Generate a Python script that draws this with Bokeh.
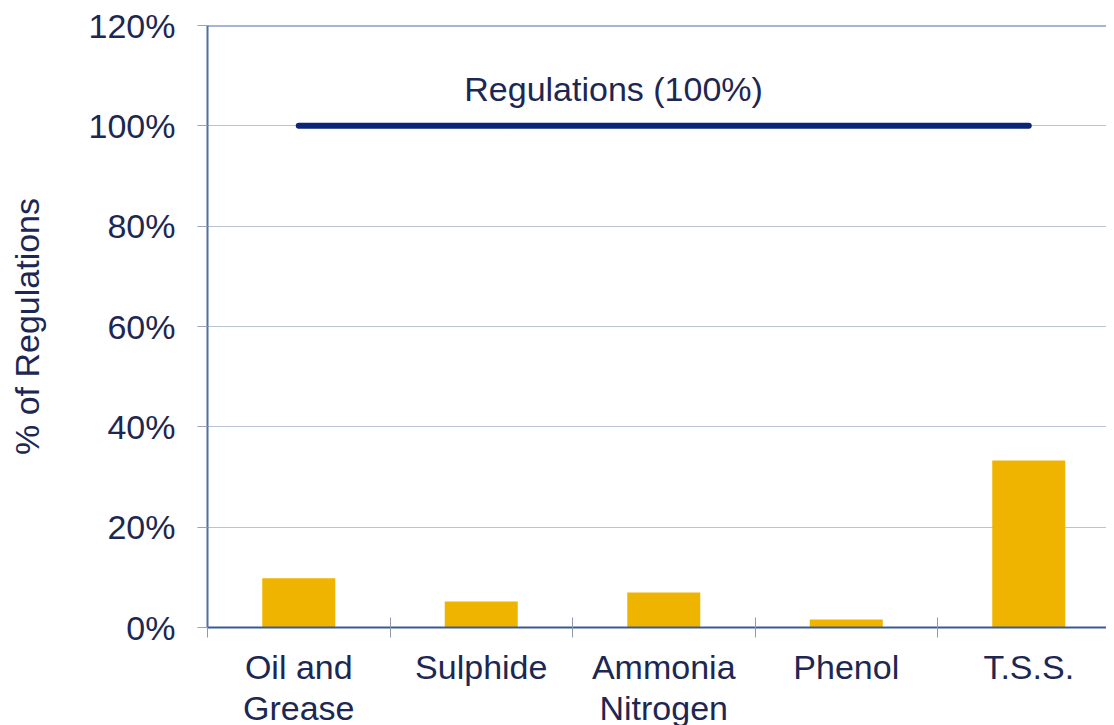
from bokeh.plotting import figure
from bokeh.models import Range1d, FixedTicker, PrintfTickFormatter, Label, Span
from bokeh.embed import file_html
from bokeh.resources import INLINE

categories = ["Oil and\nGrease", "Sulphide", "Ammonia\nNitrogen", "Phenol", "T.S.S."]
values = [9.8, 5.2, 7.0, 1.6, 33.3]
regulation = 100
regulation_label = "Regulations (100%)"
y_ticks = [0, 20, 40, 60, 80, 100, 120]

n = len(categories)
centers = [i + 0.5 for i in range(n)]
bounds = [float(i) for i in range(n + 1)]

TEXT = "#1c2753"
FONT = "Liberation Sans"
FS = "34px"
AXIS_BLUE = "#4f6fa6"
GRID = "#b9c3d3"
BAR = "#efb400"
LINE = "#0b2679"

p = figure(frame_width=899, frame_height=602, output_backend="svg", toolbar_location=None,
           x_range=Range1d(0, 4.926), y_range=Range1d(0, 120),
           min_border_left=207, min_border_right=0, min_border_top=25, min_border_bottom=0)
p.outline_line_color = None
p.background_fill_color = "white"

p.vbar(x=centers, top=values, width=0.4, fill_color=BAR, line_color=None)
p.line(x=[centers[0], centers[-1]], y=[regulation, regulation], line_width=6,
       line_color=LINE, line_cap="round")

p.add_layout(Span(location=y_ticks[-1], dimension="width", line_color=AXIS_BLUE, line_width=2))

p.add_layout(Label(x=2.225, y=107.4, text=regulation_label, text_align="center",
                   text_baseline="middle", text_font=FONT, text_font_size=FS, text_color=TEXT))

# y axis
ya = p.yaxis[0]
ya.ticker = FixedTicker(ticks=y_ticks, minor_ticks=[])
ya.formatter = PrintfTickFormatter(format="%d%%")
ya.axis_line_color = AXIS_BLUE
ya.axis_line_width = 2
ya.major_tick_line_color = "#9aa4b4"
ya.major_tick_out = 10
ya.major_tick_in = 0
ya.minor_tick_line_color = None
ya.major_label_text_font = FONT
ya.major_label_text_font_size = FS
ya.major_label_text_color = TEXT
ya.major_label_standoff = 22
ya.axis_label = "% of Regulations"
ya.axis_label_text_font = FONT
ya.axis_label_text_font_size = FS
ya.axis_label_text_font_style = "normal"
ya.axis_label_text_color = TEXT
ya.axis_label_standoff = 40

# x axis
xa = p.xaxis[0]
xa.ticker = FixedTicker(ticks=centers, minor_ticks=bounds)
xa.major_label_overrides = {c: lab for c, lab in zip(centers, categories)}
xa.axis_line_color = "#3b5a94"
xa.axis_line_width = 2
xa.major_tick_line_color = None
xa.major_tick_out = 0
xa.major_tick_in = 0
xa.minor_tick_line_color = "#8f99aa"
xa.minor_tick_out = 10
xa.minor_tick_in = 10
xa.major_label_text_font = FONT
xa.major_label_text_font_size = FS
xa.major_label_text_color = TEXT
xa.major_label_standoff = 10
xa.major_label_text_line_height = 1.09

p.xgrid.grid_line_color = None
p.ygrid.ticker = FixedTicker(ticks=y_ticks)
p.ygrid.grid_line_color = GRID
p.ygrid.grid_line_width = 1

open("out.html", "w").write(file_html(p, INLINE))
